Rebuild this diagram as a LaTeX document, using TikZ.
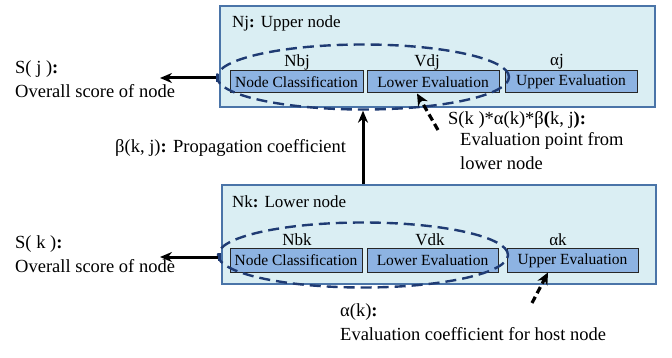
\documentclass[tikz,border=0pt]{standalone}
\usepackage{fontspec}
\setmainfont{Liberation Serif}
\usetikzlibrary{arrows.meta,shapes.geometric}
\definecolor{outerfill}{HTML}{DAEEF3}
\definecolor{outerdraw}{HTML}{4A74A8}
\definecolor{innerfill}{HTML}{8DB3E2}
\definecolor{navy}{HTML}{1F3B73}
\newcommand{\cc}{\textbf{:}\hspace{0.35em}}
\begin{document}
\begin{tikzpicture}[x=1pt,y=-1pt,
  outerbox/.style={draw=outerdraw,fill=outerfill,line width=2pt,minimum height=101pt,anchor=north west,inner sep=0},
  innerbox/.style={draw=black!85,fill=innerfill,line width=1pt,minimum height=22pt,inner sep=0,font=\fontsize{15.5}{17}\selectfont},
  lbl/.style={font=\fontsize{17}{19}\selectfont,inner sep=0},
  txt/.style={font=\fontsize{18.5}{24}\selectfont,inner sep=0,align=left,anchor=north west},
  dashell/.style={ellipse,draw=navy,line width=2.4pt,dash pattern=on 11pt off 6pt,minimum width=292pt,minimum height=65pt,inner sep=0},
  solidarrow/.style={line width=3pt,{Square[length=3pt,width=8pt,color=navy]}-{Stealth[length=12pt,width=10pt]}},
  uparrow/.style={line width=3pt,-{Stealth[length=12pt,width=10pt]}},
  dasharrow/.style={line width=3.2pt,dash pattern=on 7pt off 4pt,-{Stealth[length=12pt,width=11pt]}}
]
\useasboundingbox (0,0) rectangle (672,358);

% upper node
\node[outerbox,minimum width=435pt] (Nj) at (219,5) {};
\node[lbl,anchor=west] (Njl) at (232,23) {Nj\cc Upper node};
\node[innerbox,minimum width=133pt] (NCj) at (296.5,82) {Node Classification};
\node[innerbox,minimum width=132pt] (LEj) at (433,82) {Lower Evaluation};
\node[innerbox,minimum width=132pt] (UEj) at (571,82) {Upper Evaluation};
\node[lbl] (Nbj) at (297,62) {Nbj};
\node[lbl] (Vdj) at (427,62) {Vdj};
\node[lbl] (aj) at (557,62) {αj};
\node[dashell] (Ej) at (363,77) {};

% lower node
\node[outerbox,minimum width=434pt,minimum height=99pt] (Nk) at (221,184) {};
\node[lbl,anchor=west] (Nkl) at (232,202) {Nk\cc Lower node};
\node[innerbox,minimum width=132pt,minimum height=23pt] (NCk) at (296,260.5) {Node Classification};
\node[innerbox,minimum width=131pt,minimum height=23pt] (LEk) at (432.5,260.5) {Lower Evaluation};
\node[innerbox,minimum width=131pt,minimum height=23pt] (UEk) at (572.5,260.5) {Upper Evaluation};
\node[lbl] (Nbk) at (297,240) {Nbk};
\node[lbl] (Vdk) at (430,240) {Vdk};
\node[lbl] (ak) at (558,240) {αk};
\node[dashell,minimum width=290pt] (Ek) at (363,255) {};

% texts
\node[txt] (Sj) at (15,60) {S( j )\cc\\Overall score of node};
\node[txt] (Sk) at (15,235) {S( k )\cc\\Overall score of node};
\node[txt] (beta) at (115,139) {β(k, j)\cc Propagation coefficient};
\node[txt] (eval) at (448,111) {S(k )*α(k)*β\textbf{(}k, j\textbf{)}\cc};
\node[txt] (evalb) at (460,132) {Evaluation point from\\lower node};
\node[txt] (alk) at (340,303) {α(k)\cc\\Evaluation coefficient for host node};

% connectors
\coordinate (sjend) at (160,78);
\coordinate (skend) at (160,257);
\draw[solidarrow] (Nj.west |- sjend) -- (sjend);
\draw[solidarrow] (Nk.west |- skend) -- (skend);
\draw[uparrow] (Ej.south |- Nk.north) -- (Ej.south);
\coordinate (d1) at (438,130);
\draw[dasharrow] (d1) -- ([xshift=-16pt]LEj.south);
\coordinate (d2) at (532,303);
\draw[dasharrow] (d2) -- ([xshift=-24.5pt]UEk.south);
\end{tikzpicture}
\end{document}
